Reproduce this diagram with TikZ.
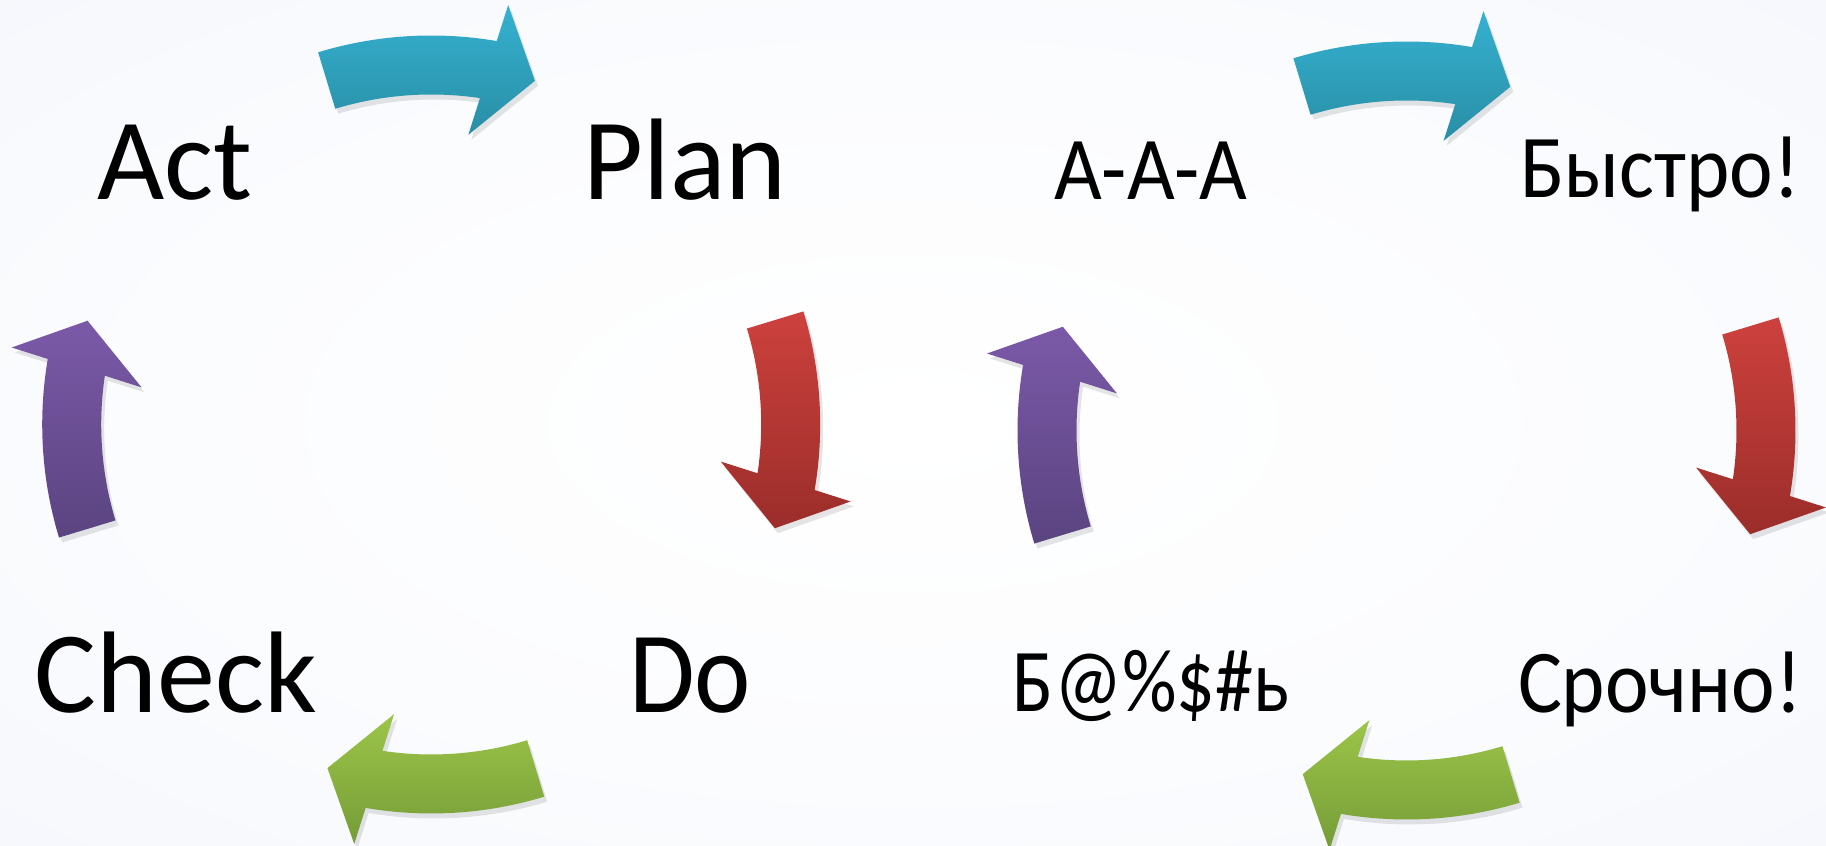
\documentclass[tikz,border=0pt]{standalone}
\usepackage{fontspec}
\setmainfont{Carlito}
\newfontfamily\narrowfont{Carlito}[FakeStretch=0.92]
\newfontfamily\narrowerfont{Carlito}[FakeStretch=0.85]
\usepackage{xcolor}
\usetikzlibrary{positioning,calc}
\definecolor{bgedge}{RGB}{234,239,248}
\definecolor{bgmid}{RGB}{241,244,251}
\definecolor{bluetop}{RGB}{53,177,209}
\definecolor{bluebot}{RGB}{41,142,165}
\definecolor{redtop}{RGB}{205,65,61}
\definecolor{redbot}{RGB}{155,45,42}
\definecolor{greentop}{RGB}{156,197,73}
\definecolor{greenbot}{RGB}{117,156,55}
\definecolor{purpletop}{RGB}{123,89,168}
\definecolor{purplebot}{RGB}{90,68,128}
\pgfdeclareradialshading{glow}{\pgfpoint{0bp}{0bp}}{color(0bp)=(white); color(22bp)=(white!70!bgmid); color(50bp)=(bgmid); color(71bp)=(bgedge)}

% curved block arrow: centre of the cycle, turn, top colour, bottom colour
\newcommand{\cyclearrow}[4]{%
  \fill[black,opacity=.1,shift={(#1)},shift={(3,-5)}]
    ({106.9+#2}:389) arc[start angle={106.9+#2},end angle={80.3+#2},radius=389]
    -- ({79.6+#2}:426.5) -- ({73.2+#2}:359) -- ({82.7+#2}:292) -- ({81.5+#2}:330)
    arc[start angle={81.5+#2},end angle={106.9+#2},radius=330] -- cycle;
  \shade[top color=#3,bottom color=#4,shift={(#1)}]
    ({106.9+#2}:389) arc[start angle={106.9+#2},end angle={80.3+#2},radius=389]
    -- ({79.6+#2}:426.5) -- ({73.2+#2}:359) -- ({82.7+#2}:292) -- ({81.5+#2}:330)
    arc[start angle={81.5+#2},end angle={106.9+#2},radius=330] -- cycle;
}

\tikzset{
  big/.style={anchor=base,inner sep=0pt,font=\fontsize{33}{36}\selectfont},
  small/.style={anchor=base,inner sep=0pt,font=\narrowfont\fontsize{25.5}{28}\selectfont}
}

\begin{document}
\begin{tikzpicture}[x=0.01cm,y=0.01cm]
        % Background
        \useasboundingbox (0,0) rectangle (1826,846);
        \shade[shading=glow] (0,0) rectangle (1826,846);

        % Cycle centres
        \coordinate (pdca) at (431.2,421.5);
        \coordinate (panic) at (1406.5,415.5);

        % Arrows
        \cyclearrow{pdca}{0}{bluetop}{bluebot}
        \cyclearrow{pdca}{-90}{redtop}{redbot}
        \cyclearrow{pdca}{-180}{greentop}{greenbot}
        \cyclearrow{pdca}{90}{purpletop}{purplebot}

        \cyclearrow{panic}{0}{bluetop}{bluebot}
        \cyclearrow{panic}{-90}{redtop}{redbot}
        \cyclearrow{panic}{-180}{greentop}{greenbot}
        \cyclearrow{panic}{90}{purpletop}{purplebot}

        % Labels
        \node[big] (act) at (175,646) {Act};
        \node[big] (plan) at (685,646) {Plan};
        \node[big,font=\narrowfont\fontsize{33}{36}\selectfont] (do) at (690,133) {Do};
        \node[big] (check) at (176,133) {Check};

        \node[small] (aaa) at (1151,646) {A-A-A};
        \node[small] (fast) at (1660,648) {Быстро!};
        \node[small] (urgent) at (1660,133) {Срочно!};
        \node[small,font=\narrowerfont\fontsize{25.5}{28}\selectfont] (swear) at (1151,134) {Б@\%\$\#ь};
    \end{tikzpicture}
\end{document}
